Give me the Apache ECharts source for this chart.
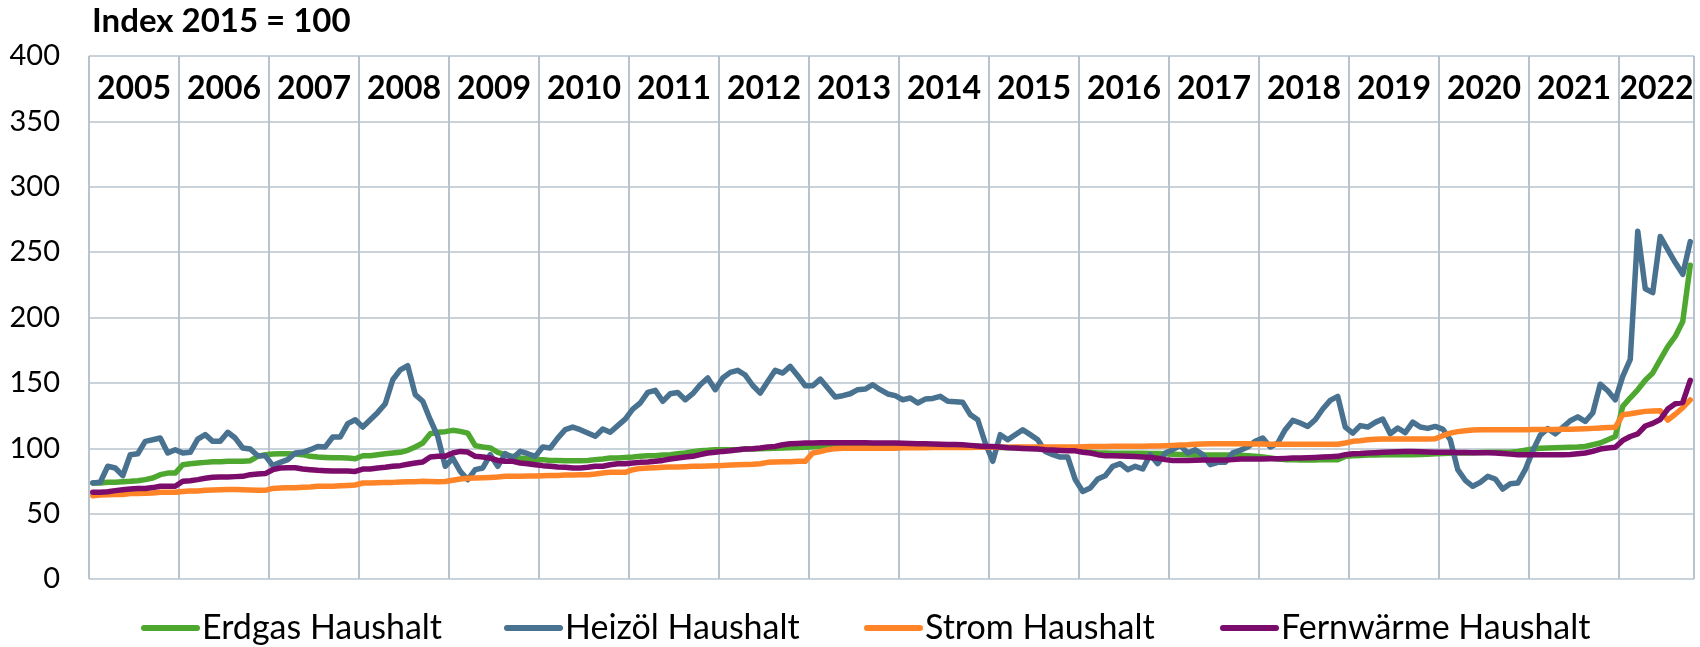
<!DOCTYPE html>
<html>
<head>
<meta charset="utf-8">
<script src="https://cdn.jsdelivr.net/npm/echarts@6/dist/echarts.min.js"></script>
<style>
    html, body { margin: 0; padding: 0; background: #fff; }
    #chart { width: 1700px; height: 647px; }
</style>
</head>
<body>
<div id="chart"></div>
<script>
// Jahre (Jan 2005 - Okt 2022, monatlich)
const years = [2005, 2006, 2007, 2008, 2009, 2010, 2011, 2012, 2013, 2014, 2015, 2016, 2017, 2018, 2019, 2020, 2021, 2022];
const seriesNames = ['Erdgas Haushalt', 'Heizöl Haushalt', 'Strom Haushalt', 'Fernwärme Haushalt'];
const yTicks = [0, 50, 100, 150, 200, 250, 300, 350, 400];

const erdgas = [
    73.4, 73.4, 74, 74, 74.4, 74.7, 75.2, 76, 77.2, 79.8, 81, 81,
    87.4, 88.2, 88.7, 89.2, 89.7, 89.7, 90, 90, 90, 90.5, 93.8, 95.1,
    95.6, 95.8, 95.8, 95.6, 95.1, 93.8, 93.3, 93, 92.8, 92.8, 92.5, 92,
    94.3, 94.3, 95.1, 95.8, 96.4, 96.9, 98.4, 101, 104, 111.1, 112.2, 112.7,
    113.7, 112.9, 111.6, 102, 101, 100.2, 96.9, 95.1, 93.8, 92.5, 91.8, 91.3,
    91.3, 90.7, 90.7, 90.5, 90.5, 90.5, 90.7, 91.3, 91.8, 92.5, 92.5, 93,
    93.3, 93.8, 94.3, 94.3, 94.8, 95.1, 95.8, 96.4, 97.4, 98.1, 98.4, 98.9,
    98.9, 98.9, 98.9, 99.4, 99.4, 99.6, 99.8, 100, 100.2, 100.4, 100.6, 100.8,
    101.2, 101.5, 101.8, 102, 102.2, 102.3, 102.4, 102.4, 102.4, 102.4, 102.4, 102.4,
    102.4, 102.3, 102.2, 102.1, 102, 101.9, 101.8, 101.7, 101.6, 101.5, 101.3, 101.1,
    100.8, 100.6, 100.5, 100.4, 100.2, 100, 99.9, 99.8, 99.7, 99.6, 99.4, 99,
    97.6, 97, 96.4, 96.4, 96.2, 96.2, 96.1, 96.1, 96.1, 96, 96, 95.8,
    95.5, 95.2, 95, 94.8, 94.8, 94.8, 94.8, 94.8, 94.8, 94.6, 94.3, 93.8,
    93.3, 92.5, 91.8, 91.3, 91.3, 91, 91, 91, 91.3, 91.3, 91.3, 93.8,
    94.3, 94.5, 94.8, 94.8, 95, 95, 95.1, 95.1, 95.1, 95.3, 95.5, 95.8,
    96, 96.2, 96.4, 96.4, 96.6, 96.8, 96.9, 96.9, 96.9, 97, 97.5, 98.5,
    99.4, 100, 100.2, 100.4, 100.6, 100.8, 101, 101.4, 102.7, 104, 106.5, 109,
    132, 138.6, 144.7, 152, 157.6, 167.7, 177.8, 185.5, 197, 240
];

const heizoel = [
    73.4, 74, 86.2, 84.9, 79, 95, 95.8, 105.3, 106.5, 107.8, 96.4, 98.9,
    96.4, 96.9, 107, 110.4, 105.3, 105.3, 112.2, 107.8, 100.2, 99.4, 94.3, 94.3,
    86.7, 89.2, 91.3, 96.4, 96.9, 98.9, 101.4, 101, 108.6, 108.6, 118.8, 121.8,
    116.2, 121.8, 127.4, 134, 152.4, 160, 163.1, 141, 135.9, 121.8, 109, 86.2,
    92.5, 82.3, 76, 83.6, 84.9, 95.1, 86.2, 95.8, 92.5, 97.6, 95.8, 93.8,
    101, 100.2, 107.8, 114.2, 116.2, 114.2, 111.6, 109.1, 114.7, 112.2, 117.3, 122.3,
    130, 134.6, 142.7, 144.3, 135.9, 141.7, 142.7, 137.1, 141.7, 148.6, 153.7, 144.8,
    153.7, 158, 159.6, 156, 148, 142.2, 151.1, 159.6, 157.5, 162.6, 155.5, 147.8,
    147.8, 152.9, 146, 139.2, 140.2, 141.7, 144.8, 145.3, 148.6, 144.8, 141.5, 140.2,
    137.1, 138.4, 134.6, 137.6, 138.1, 139.7, 135.9, 135.6, 135.1, 125.7, 121.8, 104,
    90, 110.4, 106.5, 110.4, 114.2, 110.4, 106.5, 97.6, 95.1, 93.3, 93.3, 76,
    67, 69.6, 76.5, 79, 86.2, 88.2, 83.6, 86.2, 84.1, 95.1, 88.2, 96.4,
    98.9, 102, 96.4, 98.9, 95.1, 87.4, 89.2, 89.2, 96.4, 98.4, 101, 105.3,
    107.8, 101, 104, 114.2, 121.3, 119.3, 116.7, 121.8, 130, 136.6, 139.7, 116.2,
    111.6, 117.3, 116.2, 119.8, 122.3, 111.1, 115.5, 112, 120, 116.2, 115.2, 116.7,
    114.7, 106.5, 83.6, 75.5, 70.9, 73.9, 78.5, 76.5, 68.8, 72.9, 73.4, 83.6,
    98, 110, 115, 111, 116, 121, 124, 120.5, 127, 149, 144, 137,
    155, 168, 266, 222, 219, 262, 252, 242, 233, 258
];

const strom = [
    63.7, 64.2, 64.5, 64.7, 64.7, 65.3, 65.3, 65.5, 65.8, 66.3, 66.3, 66.3,
    67, 67.3, 67.3, 67.8, 68, 68.3, 68.5, 68.5, 68.3, 68.1, 67.8, 67.8,
    69.3, 69.6, 69.8, 69.8, 70.1, 70.3, 70.9, 70.9, 70.9, 71.4, 71.6, 71.9,
    73.4, 73.4, 73.6, 73.9, 73.9, 74.1, 74.4, 74.4, 74.7, 74.5, 74.4, 74.6,
    75.5, 76.5, 77, 77.2, 77.5, 77.7, 78, 78.5, 78.5, 78.5, 78.7, 78.7,
    79, 79.2, 79.2, 79.5, 79.5, 79.8, 79.8, 80.3, 81, 81.6, 81.6, 81.6,
    83.6, 84.6, 84.9, 85.1, 85.4, 85.6, 85.6, 85.9, 86.2, 86.2, 86.4, 86.7,
    86.9, 87.2, 87.4, 87.6, 87.7, 88.2, 89.2, 89.4, 89.7, 89.7, 90, 90,
    96.4, 97.4, 98.9, 99.7, 100, 100, 100, 100, 100, 100, 100, 100,
    100.3, 100.3, 100.4, 100.4, 100.5, 100.5, 100.5, 100.6, 100.6, 100.6, 100.7, 100.7,
    100.8, 100.8, 100.8, 100.9, 100.9, 100.9, 101, 101, 101, 101, 101, 101,
    101.2, 101.3, 101.4, 101.4, 101.5, 101.5, 101.5, 101.5, 101.6, 101.7, 101.8, 102,
    102.2, 102.4, 102.6, 103, 103.3, 103.5, 103.5, 103.5, 103.5, 103.5, 103.4, 103.3,
    103.2, 103.1, 103, 103, 103, 103, 103, 103, 103, 103, 103, 104,
    105.3, 105.8, 106.5, 106.8, 107, 107, 107, 107, 107, 107, 107, 107.2,
    109.6, 111.6, 112.7, 113.4, 113.9, 114.2, 114.2, 114.2, 114.2, 114.2, 114.2, 114.2,
    114.4, 114.4, 114.4, 114.4, 114.5, 114.6, 114.8, 115, 115.2, 115.5, 115.8, 116,
    125.7, 126.4, 127.4, 128.2, 128.5, 128.7, 121.5, 126, 131, 137
];

const fernwaerme = [
    66.3, 66.3, 66.8, 67.6, 68.3, 68.8, 69.3, 69.3, 69.9, 70.9, 70.9, 70.9,
    74.7, 75.2, 76, 77, 77.8, 78, 78, 78.3, 78.5, 79.8, 80.3, 80.6,
    83.6, 84.9, 85.1, 85.1, 84.1, 83.6, 83.1, 82.8, 82.6, 82.6, 82.6, 82.3,
    84.1, 84.1, 84.9, 85.4, 86.2, 86.7, 87.7, 88.7, 89.5, 93.3, 93.8, 93.8,
    96.4, 97.6, 97.1, 93.8, 93.3, 92.5, 90.7, 90, 90, 88.7, 88.2, 87.4,
    86.7, 86.2, 85.7, 85.4, 84.9, 84.9, 85.4, 86.2, 86.2, 87.4, 88.2, 88.2,
    88.7, 89.2, 89.5, 90, 90.7, 91.8, 92.5, 93.3, 93.8, 95.1, 96.4, 96.9,
    97.6, 98.1, 98.9, 99.4, 99.7, 100.2, 101, 101.4, 102.7, 103.5, 103.7, 104,
    104.1, 104.3, 104.3, 104.3, 104.3, 104.3, 104.2, 104.2, 104.1, 104, 104, 104,
    103.8, 103.6, 103.5, 103.4, 103.2, 103, 102.9, 102.8, 102.6, 102.2, 101.8, 101.4,
    101.4, 101, 100.4, 100.2, 99.9, 99.7, 99.4, 98.9, 98.6, 98.3, 98.1, 98,
    97, 96.4, 95.1, 94.3, 94.3, 94, 93.8, 93.6, 93.3, 93, 92.3, 91.3,
    90.7, 90.7, 90.7, 90.9, 91.1, 91.1, 91.1, 91.1, 91.3, 91.8, 91.8, 91.8,
    91.8, 92, 92, 92.2, 92.5, 92.5, 92.8, 93, 93.3, 93.5, 93.8, 95.1,
    95.8, 96, 96.4, 96.6, 96.9, 97.1, 97.4, 97.5, 97.6, 97.4, 97.2, 97,
    97, 96.9, 96.8, 96.8, 96.6, 96.5, 96.5, 96.4, 96, 95.5, 95.1, 95.1,
    95.1, 95.1, 95.1, 95.1, 95.1, 95.3, 95.8, 96.4, 97.6, 99.4, 100.2, 100.7,
    106, 109, 111, 117, 119, 122, 130, 134, 135, 152
];

// Monats-Kategorien
const months = [];
years.forEach(y => {
    for (let m = 1; m <= 12; m++) {
        months.push(y + '-' + (m < 10 ? '0' + m : m));
    }
});
months.length = erdgas.length;

const gridColor = '#B9C3CE';
const font = 'Lato, "Noto Sans", sans-serif';

// Jahreszahl in der Mitte jedes Jahres zeigen
function isYearLabel (index) {
    const start = Math.floor(index / 12) * 12;
    const n = Math.min(12, months.length - start);
    return index - start === Math.floor(n / 2);
}

let myChart = echarts.init(document.getElementById('chart'));
const colors = ['#4EA72E', '#48728F', '#FF8427', '#7B0C6B'];
const values = [erdgas, heizoel, strom, fernwaerme];
const legendLeft = [141, 504, 864, 1220];
// Legendensymbol: dicke Linie mit runden Enden
const capsule = 'path://M3,0 L56,0 A3,3 0 0 1 56,6 L3,6 A3,3 0 0 1 3,0 Z';

var option = {
    animation: false,
    title: {
        text: 'Index 2015 = 100',
        left: 92,
        top: 5,
        padding: 0,
        textStyle: { fontFamily: font, fontWeight: 'bold', fontSize: 33, color: '#000' },
    },
    grid: { left: 89, right: 6, top: 56, bottom: 68 },
    legend: seriesNames.map((name, i) => ({
        data: [name],
        left: legendLeft[i],
        top: 611,
        padding: 0,
        icon: capsule,
        itemWidth: 59,
        itemHeight: 6,
        textStyle: { fontFamily: font, fontSize: 34, color: '#000', padding: [0, 0, 0, -3] },
    })),
    xAxis: {
        type: 'category',
        data: months,
        position: 'top',
        boundaryGap: true,
        axisLine: { show: false },
        axisTick: { show: false },
        axisLabel: {
            inside: true,
            interval: isYearLabel,
            formatter: v => v.slice(0, 4),
            fontFamily: font,
            fontWeight: 'bold',
            fontSize: 32,
            color: '#000',
            margin: 33,
            verticalAlign: 'middle',
            padding: [0, 7.5, 0, 0],
        },
        splitLine: {
            show: true,
            interval: (i) => i % 12 === 0,
            lineStyle: { color: gridColor, width: 2 },
        },
    },
    yAxis: {
        type: 'value',
        min: yTicks[0],
        max: yTicks[yTicks.length - 1],
        interval: yTicks[1] - yTicks[0],
        axisLine: { show: false },
        axisTick: { show: false },
        axisLabel: { fontFamily: font, fontSize: 29, color: '#000', margin: 29 },
        splitLine: { lineStyle: { color: gridColor, width: 1.6 } },
    },
    series: seriesNames.map((name, i) => ({
        name: name,
        type: 'line',
        data: values[i],
        symbol: 'none',
        itemStyle: { color: colors[i] },
        lineStyle: { width: 5.5, color: colors[i], cap: 'round', join: 'round' },
    })),
};
myChart.setOption(option);
</script>
</body>
</html>
